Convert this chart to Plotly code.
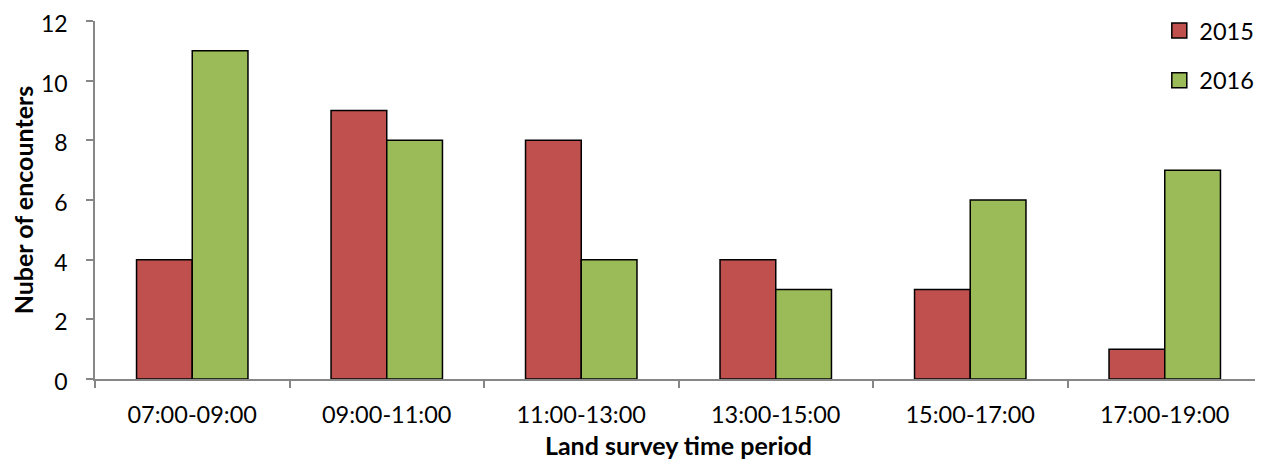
import plotly.graph_objects as go

categories = ["07:00-09:00", "09:00-11:00", "11:00-13:00", "13:00-15:00", "15:00-17:00", "17:00-19:00"]
series_names = ["2015", "2016"]
values_2015 = [4, 9, 8, 4, 3, 1]
values_2016 = [11, 8, 4, 3, 6, 7]
y_ticks = [0, 2, 4, 6, 8, 10, 12]
colors = ["#C0504D", "#9BBB59"]

font_family = "Lato, Open Sans, sans-serif"

fig = go.Figure()
for name, vals, col in zip(series_names, [values_2015, values_2016], colors):
    fig.add_trace(go.Bar(name=name, x=categories, y=vals, showlegend=False,
                         marker=dict(color=col, line=dict(color="black", width=1.5))))
for i, (name, col) in enumerate(zip(series_names, colors)):
    fig.add_trace(go.Scatter(name=name, x=[None], y=[None], mode="markers", legendgroup=str(i),
                             marker=dict(symbol="square", size=15, color=col,
                                         line=dict(color="black", width=1.5))))

fig.update_layout(
    width=1255, height=452,
    margin=dict(l=87, r=1, t=13, b=81, pad=0, autoexpand=False),
    paper_bgcolor="white", plot_bgcolor="white",
    barmode="group", bargap=0.427, bargroupgap=0,
    font=dict(family=font_family, size=23.5, color="black"),
    legend=dict(x=0.912, xanchor="left", y=1.034, yanchor="top", font=dict(size=23.5),
                tracegroupgap=16, bgcolor="rgba(0,0,0,0)"),
    xaxis=dict(
        showline=True, linecolor="#868686", linewidth=1.5, automargin=True,
        ticks="outside", tickson="boundaries", ticklen=7, tickcolor="#868686", tickwidth=1.5,
        showgrid=False, ticklabelstandoff=14,
        title=dict(text="<b>Land survey time period</b>", font=dict(size=25), standoff=16),
    ),
    yaxis=dict(
        range=[0, 12.0001], tickvals=y_ticks, showline=True, linecolor="#868686", linewidth=1.5,
        automargin=False,
        ticks="outside", ticklen=7, tickcolor="#868686", tickwidth=1.5,
        showgrid=False, zeroline=False, ticklabelstandoff=14, ticklabeloverflow="allow",
        ticklabelshift=3, tickfont=dict(size=23),
        title=dict(text="<b>Nuber of encounters</b>", font=dict(size=25), standoff=10),
    ),
)

fig.write_html("out.html")
